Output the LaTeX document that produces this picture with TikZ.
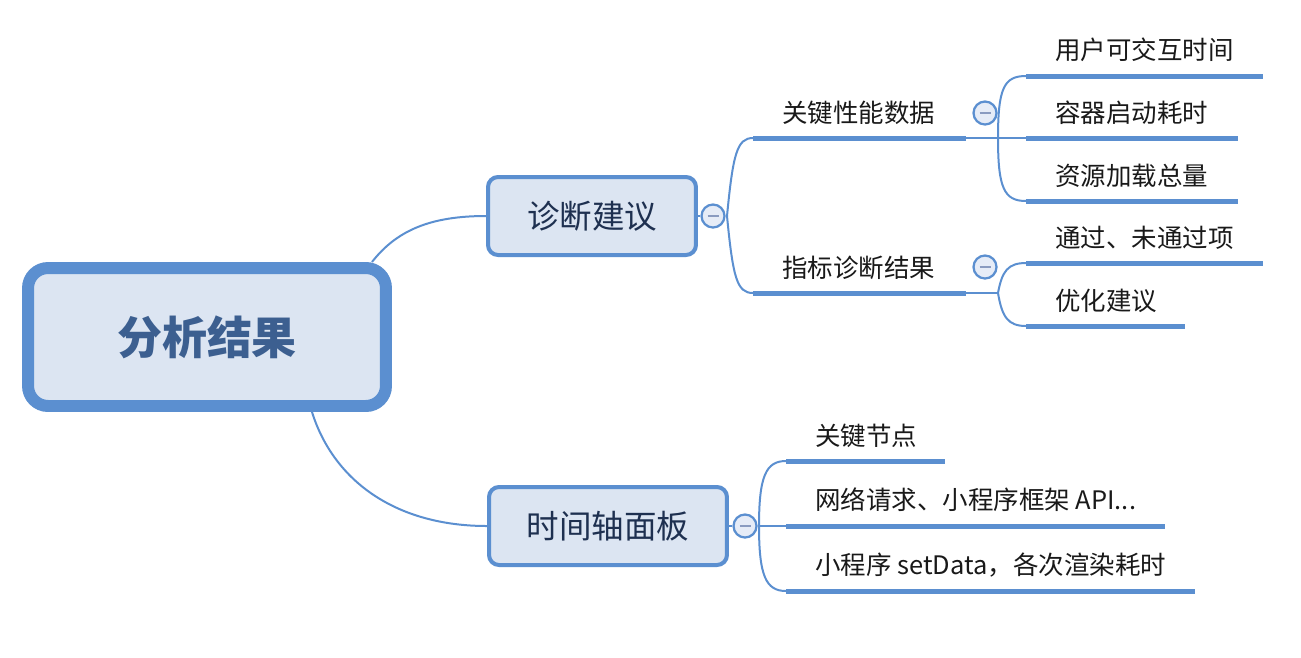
\documentclass[tikz,border=0pt]{standalone}
\usepackage{fontspec}
\setmainfont{Noto Sans CJK SC}
\definecolor{mapblue}{RGB}{91,143,208}
\definecolor{mapfill}{RGB}{220,229,242}
\definecolor{roottext}{RGB}{60,95,144}
\definecolor{boxtext}{RGB}{30,48,80}
\definecolor{knobfill}{RGB}{230,236,247}
\definecolor{knobbar}{RGB}{138,155,192}

\begin{document}
\begin{tikzpicture}[x=0.02cm, y=-0.02cm,
  rootbox/.style={draw=mapblue, fill=mapfill, line width=0.24cm, rounded corners=0.4cm,
    minimum width=7.16cm, minimum height=2.76cm, text=roottext,
    font=\fontsize{25.6}{30}\selectfont\bfseries},
  topicbox/.style={draw=mapblue, fill=mapfill, line width=0.08cm, rounded corners=0.2cm,
    minimum height=1.56cm, text=boxtext, font=\fontsize{18.5}{22}\selectfont},
  knob/.style={circle, draw=mapblue, fill=knobfill, line width=0.045cm, minimum size=0.46cm, inner sep=0pt,
    path picture={\draw[knobbar, line width=0.055cm] ([xshift=-0.11cm]path picture bounding box.center) -- ([xshift=0.11cm]path picture bounding box.center);}},
  leaf/.style={anchor=west, inner sep=0pt, text=black!90, font=\fontsize{14.5}{17}\selectfont},
  twig/.style={draw=mapblue, line width=0.04cm},
  uline/.style={draw=mapblue, line width=0.1cm}]
\useasboundingbox (0,0) rectangle (1301,657);

\node[rootbox] (root) at (207,337) {分析结果};
\node[topicbox, minimum width=4.16cm] (diag) at (592,216) {诊断建议};
\node[topicbox, minimum width=4.76cm] (tl) at (608,526) {时间轴面板};

\draw[twig] ([xshift=-0.4cm]root.north east) .. controls +(25,-32) and +(-55,0) .. (diag.west);
\draw[twig] ([xshift=2.1cm]root.south) .. controls +(22,70) and +(-90,0) .. (tl.west);

% 诊断建议
\node[knob] (diagk) at (713,216) {};
\coordinate (dfork) at (727,216);
\draw[twig] (diag.east) -- (diagk.west);

\coordinate (kp-l) at (753,138);
\coordinate (kp-r) at (966,138);
\coordinate (kpfork) at (998,138);
\coordinate (zb-l) at (753,293);
\coordinate (zb-r) at (966,293);
\coordinate (zbfork) at (998,293);
\draw[twig] (dfork) .. controls +(6,-62) and +(-16,0) .. (kp-l);
\draw[twig] (dfork) .. controls +(6,62) and +(-16,0) .. (zb-l);
\draw[uline] (kp-l) -- (kp-r);
\draw[uline] (zb-l) -- (zb-r);
\draw[twig] (kp-r) -- (kpfork);
\draw[twig] (zb-r) -- (zbfork);
\node[leaf] (kp) at (782,113) {关键性能数据};
\node[leaf] (zb) at (782,268) {指标诊断结果};
\node[knob] (kpk) at (985,113) {};
\node[knob] (zbk) at (985,267) {};

% 关键性能数据
\coordinate (ux-l) at (1026,76);
\coordinate (ux-r) at (1263,76);
\coordinate (rq-l) at (1026,138);
\coordinate (rq-r) at (1238,138);
\coordinate (zy-l) at (1026,201);
\coordinate (zy-r) at (1238,201);
\draw[twig] (kpfork) .. controls +(0,-50) and +(-22,0) .. (ux-l);
\draw[twig] (kpfork) -- (rq-l);
\draw[twig] (kpfork) .. controls +(0,50) and +(-22,0) .. (zy-l);
\draw[uline] (ux-l) -- (ux-r);
\draw[uline] (rq-l) -- (rq-r);
\draw[uline] (zy-l) -- (zy-r);
\node[leaf] (ux) at (1055,50) {用户可交互时间};
\node[leaf] (rq) at (1055,113) {容器启动耗时};
\node[leaf] (zy) at (1055,176) {资源加载总量};

% 指标诊断结果
\coordinate (tg-l) at (1026,263);
\coordinate (tg-r) at (1263,263);
\coordinate (yh-l) at (1026,326);
\coordinate (yh-r) at (1185,326);
\draw[twig] (zbfork) .. controls +(4,-22) and +(-18,0) .. (tg-l);
\draw[twig] (zbfork) .. controls +(4,24) and +(-18,0) .. (yh-l);
\draw[uline] (tg-l) -- (tg-r);
\draw[uline] (yh-l) -- (yh-r);
\node[leaf] (tg) at (1055,238) {通过、未通过项};
\node[leaf] (yh) at (1055,301) {优化建议};

% 时间轴面板
\node[knob] (tlk) at (745,526) {};
\coordinate (tfork) at (759,526);
\draw[twig] (tl.east) -- (tlk.west);
\draw[twig] (tlk.east) -- (tfork);
\coordinate (gj-l) at (786,461);
\coordinate (gj-r) at (945,461);
\coordinate (wl-l) at (786,526);
\coordinate (wl-r) at (1165,526);
\coordinate (sd-l) at (786,591);
\coordinate (sd-r) at (1195,591);
\draw[twig] (tfork) .. controls +(0,-50) and +(-20,0) .. (gj-l);
\draw[twig] (tfork) -- (wl-l);
\draw[twig] (tfork) .. controls +(0,50) and +(-20,0) .. (sd-l);
\draw[uline] (gj-l) -- (gj-r);
\draw[uline] (wl-l) -- (wl-r);
\draw[uline] (sd-l) -- (sd-r);
\node[leaf] (gj) at (815,436) {关键节点};
\node[leaf] (wl) at (815,500) {网络请求、小程序框架 API...};
\node[leaf] (sd) at (815,565) {小程序 setData，各次渲染耗时};
\end{tikzpicture}
\end{document}
